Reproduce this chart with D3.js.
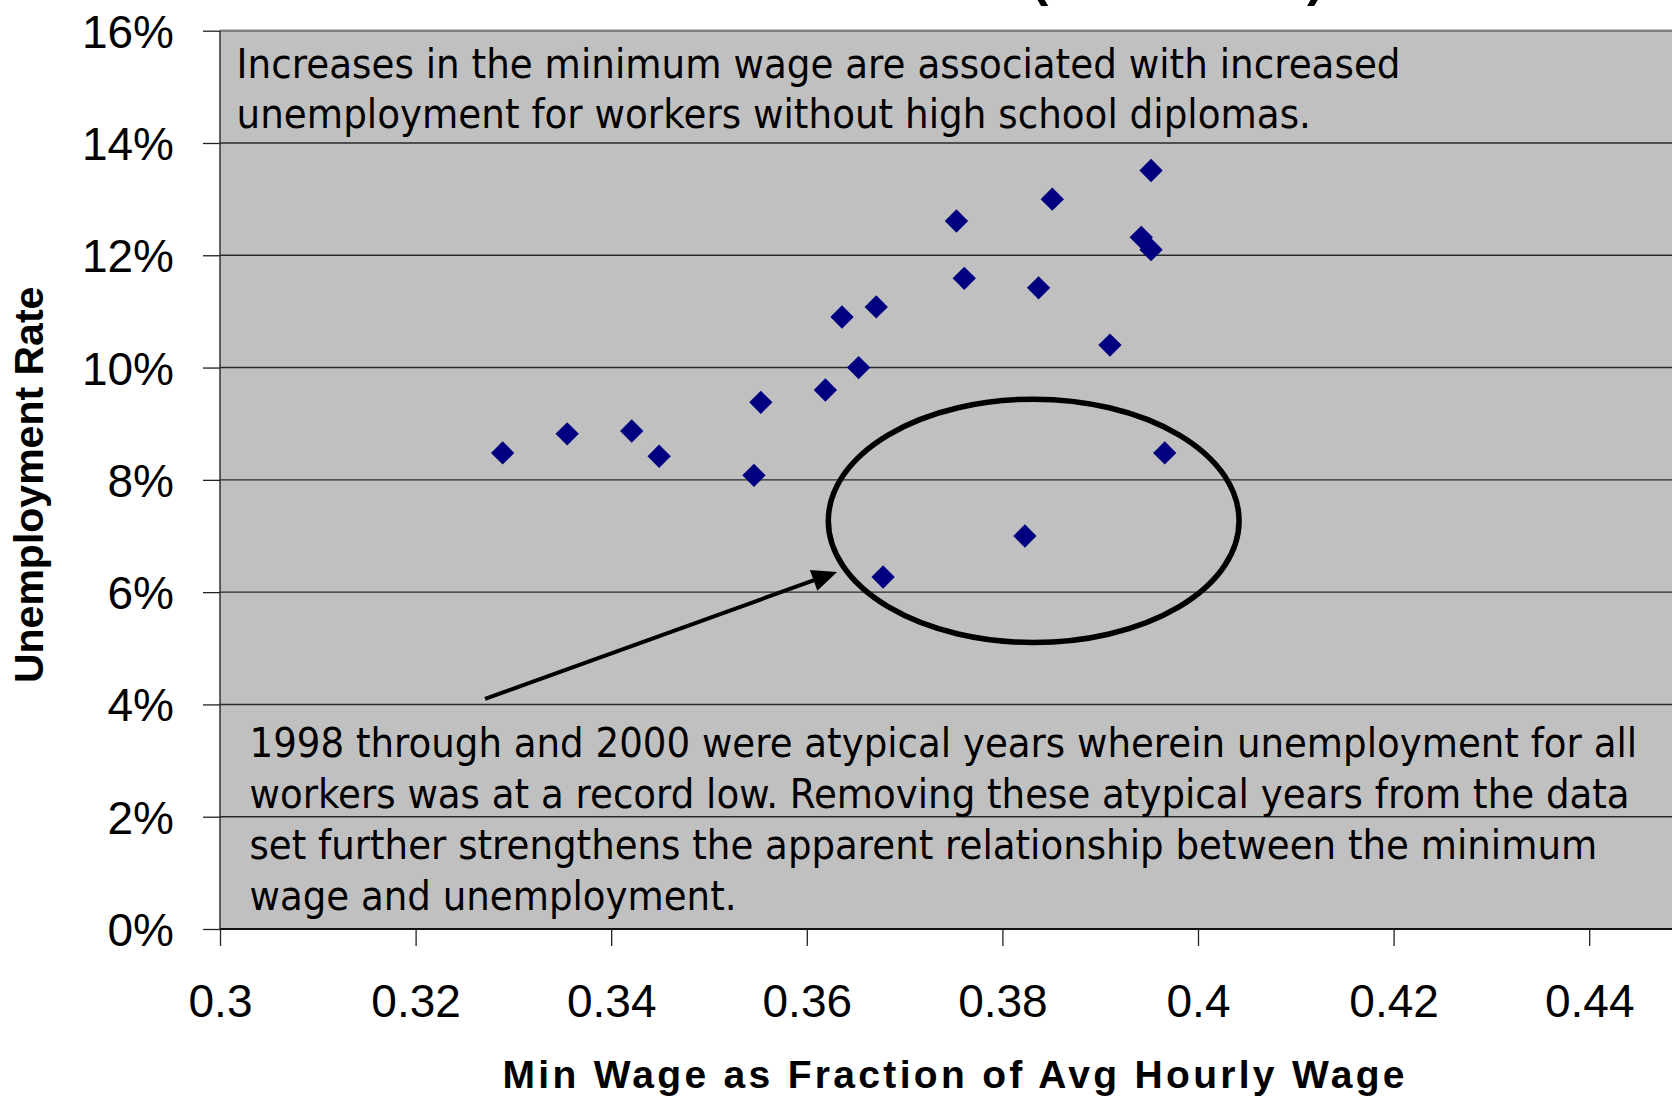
<!DOCTYPE html>
<html><head><meta charset="utf-8">
<script src="https://cdn.jsdelivr.net/npm/d3@7"></script>
<style>html,body{margin:0;padding:0;background:#fff;overflow:hidden}</style>
</head><body><svg id="chart" width="1672" height="1098"></svg>
<script>
// ---------- data ----------
const xTickValues = [0.30, 0.32, 0.34, 0.36, 0.38, 0.40, 0.42, 0.44];
const xTickLabels = ["0.3", "0.32", "0.34", "0.36", "0.38", "0.4", "0.42", "0.44"];
const yTickValues = [0, 0.02, 0.04, 0.06, 0.08, 0.10, 0.12, 0.14, 0.16];
const yTickLabels = ["0%", "2%", "4%", "6%", "8%", "10%", "12%", "14%", "16%"];

const minWageFraction = [0.3289, 0.3355, 0.3421, 0.3449, 0.3546, 0.3553, 0.3619, 0.3636, 0.3671, 0.3653,
  0.3753, 0.3761, 0.3851, 0.3837, 0.3952, 0.3942, 0.3952, 0.3910, 0.3966, 0.3823, 0.3678];
const unemploymentRate = [0.0848, 0.0882, 0.0887, 0.0842, 0.0808, 0.0938, 0.0960, 0.1090, 0.1108, 0.1000,
  0.1261, 0.1159, 0.1300, 0.1142, 0.1351, 0.1232, 0.1210, 0.1040, 0.0848, 0.0700, 0.0627];

const xTitle = "Min Wage as Fraction of Avg Hourly Wage";
const yTitle = "Unemployment Rate";
const topNote = [
  "Increases in the minimum wage are associated with increased",
  "unemployment for workers without high school diplomas."
];
const bottomNote = [
  "1998 through and 2000 were atypical years wherein unemployment for all",
  "workers was at a record low. Removing these atypical years from the data",
  "set further strengthens the apparent relationship between the minimum",
  "wage and unemployment."
];
// highlighted region (data units) and arrow (data units)
const ellipseCenter = [0.3832, 0.0727];
const ellipseRadii = [0.0210, 0.02167];
const arrowFrom = [0.3271, 0.0410];
const arrowTo = [0.3631, 0.0636];

// ---------- layout ----------
const svg = d3.select("#chart");
const plotL = 220, plotT = 30.7, plotB = 929, unitPx = 9780;
const x = d3.scaleLinear().domain([0.30, 0.45]).range([plotL, plotL + 0.15 * unitPx]);
const y = d3.scaleLinear().domain([0, 0.16]).range([plotB, plotT]);
const tickFont = "'Liberation Sans', Arial, sans-serif";
const noteFont = "'DejaVu Sans', Verdana, sans-serif";

// plot background
svg.append("rect")
  .attr("x", x(0.30)).attr("y", y(0.16))
  .attr("width", x(0.45) - x(0.30)).attr("height", y(0) - y(0.16))
  .attr("fill", "#c0c0c0");

// gridlines
svg.append("g").selectAll("line").data(yTickValues.filter(v => v > 0 && v < 0.16)).join("line")
  .attr("x1", x(0.30)).attr("x2", x(0.45))
  .attr("y1", d => y(d)).attr("y2", d => y(d))
  .attr("stroke", "#2a2a2a").attr("stroke-width", 1.4);

// borders
svg.append("line").attr("x1", x(0.30)).attr("x2", x(0.45)).attr("y1", y(0.16)).attr("y2", y(0.16))
  .attr("stroke", "#808080").attr("stroke-width", 2.5);
svg.append("line").attr("x1", x(0.30)).attr("x2", x(0.30)).attr("y1", y(0.16)).attr("y2", y(0))
  .attr("stroke", "#333").attr("stroke-width", 1.5);
svg.append("line").attr("x1", x(0.30)).attr("x2", x(0.45)).attr("y1", y(0)).attr("y2", y(0))
  .attr("stroke", "#111").attr("stroke-width", 2);

// axes
const yAxis = svg.append("g").attr("transform", `translate(${plotL},0)`)
  .call(d3.axisLeft(y).tickValues(yTickValues).tickSize(17).tickPadding(29)
    .tickFormat((d, i) => yTickLabels[i]));
const xAxis = svg.append("g").attr("transform", `translate(0,${plotB})`)
  .call(d3.axisBottom(x).tickValues(xTickValues).tickSize(17).tickPadding(38)
    .tickFormat((d, i) => xTickLabels[i]));
[yAxis, xAxis].forEach(g => {
  g.select(".domain").remove();
  g.selectAll(".tick line").attr("stroke", "#222").attr("stroke-width", 1.3);
  g.selectAll(".tick text").attr("fill", "#000")
    .style("font-family", tickFont).style("font-size", "46px");
});
yAxis.selectAll(".tick text").attr("dy", "0.36em");

// axis titles
svg.append("text").attr("x", (x(0.30) + x(0.45)) / 2).attr("y", 1088)
  .attr("text-anchor", "middle").attr("textLength", 902).attr("lengthAdjust", "spacing")
  .style("font-family", tickFont).style("font-weight", "bold").style("font-size", "39px")
  .text(xTitle);
svg.append("text").attr("transform", `translate(43,${(y(0) + y(0.16)) / 2 + 5}) rotate(-90)`)
  .attr("text-anchor", "middle")
  .style("font-family", tickFont).style("font-weight", "bold").style("font-size", "41px")
  .text(yTitle);

// cut-off chart title (only the bottoms of its parentheses are visible)
svg.append("text").attr("x", 1031).attr("y", -5).text("(")
  .style("font-family", tickFont).style("font-weight", "bold").style("font-size", "52px");
svg.append("text").attr("x", 1307).attr("y", -5).text(")")
  .style("font-family", tickFont).style("font-weight", "bold").style("font-size", "52px");

// notes (horizontally condensed to match Tahoma-like rendering)
function note(lines, x0, y0, lineH, targetWidth) {
  const g = svg.append("g");
  const t = g.selectAll("text").data(lines).join("text")
    .attr("x", 0).attr("y", (d, i) => y0 + i * lineH)
    .style("font-family", noteFont).style("font-size", "41px").attr("fill", "#000")
    .text(d => d);
  const w = t.nodes()[0].getComputedTextLength();
  g.attr("transform", `translate(${x0},0) scale(${targetWidth / w},1)`);
}
note(topNote, 236.6, 77.7, 50.6, 1164);
note(bottomNote, 249.5, 756.7, 51, 1388);

// ellipse
svg.append("ellipse")
  .attr("cx", x(ellipseCenter[0])).attr("cy", y(ellipseCenter[1]))
  .attr("rx", x(ellipseCenter[0] + ellipseRadii[0]) - x(ellipseCenter[0]))
  .attr("ry", y(ellipseCenter[1] - ellipseRadii[1]) - y(ellipseCenter[1]))
  .attr("fill", "none").attr("stroke", "#000").attr("stroke-width", 5.5);

// arrow
const ax0 = x(arrowFrom[0]), ay0 = y(arrowFrom[1]), ax1 = x(arrowTo[0]), ay1 = y(arrowTo[1]);
const ang = Math.atan2(ay1 - ay0, ax1 - ax0);
svg.append("line").attr("x1", ax0).attr("y1", ay0)
  .attr("x2", ax1 - 14 * Math.cos(ang)).attr("y2", ay1 - 14 * Math.sin(ang))
  .attr("stroke", "#000").attr("stroke-width", 4);
svg.append("path")
  .attr("d", "M0,0 L-25,-11 L-25,11 Z")
  .attr("transform", `translate(${ax1},${ay1}) rotate(${ang * 180 / Math.PI})`)
  .attr("fill", "#000");

// points
const pts = minWageFraction.map((v, i) => [v, unemploymentRate[i]]);
svg.append("g").selectAll("path").data(pts).join("path")
  .attr("d", d3.symbol(d3.symbolSquare, 272)())
  .attr("transform", d => `translate(${x(d[0])},${y(d[1])}) rotate(45)`)
  .attr("fill", "#000080");
</script></body></html>
